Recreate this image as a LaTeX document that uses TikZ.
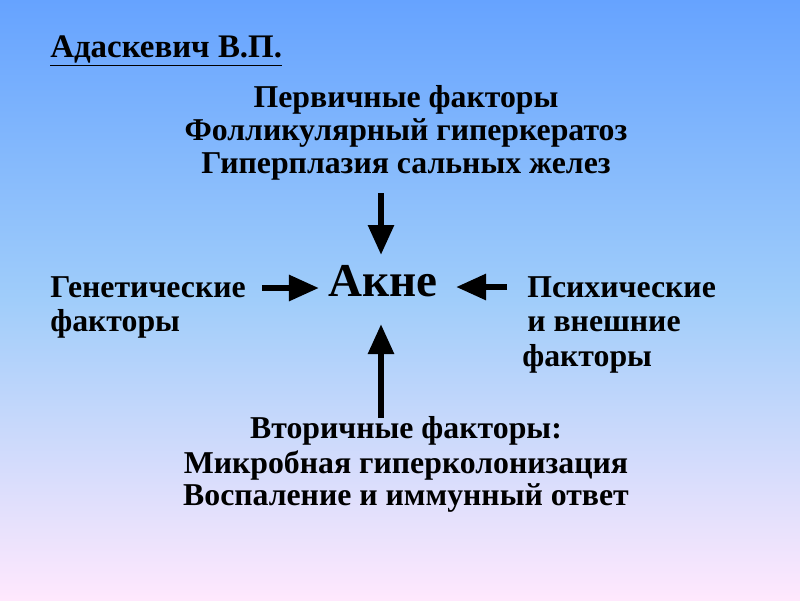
\documentclass[tikz,border=0pt]{standalone}
\usepackage{fontspec}
\setmainfont{Liberation Serif}
\usepackage{xcolor}
\usetikzlibrary{arrows.meta,positioning}
\definecolor{bgtop}{RGB}{102,163,255}
\definecolor{bgmid}{RGB}{160,205,250}
\definecolor{bgbot}{RGB}{255,232,253}

\begin{document}
\begin{tikzpicture}[
  x=0.025cm, y=-0.025cm,
  txt/.style={inner sep=0pt, align=center, font=\fontsize{22.6}{33}\selectfont\bfseries},
  lft/.style={inner sep=0pt, anchor=west, font=\fontsize{22.6}{33}\selectfont\bfseries},
  big/.style={inner sep=0pt, font=\fontsize{33.5}{38}\selectfont\bfseries},
  arr/.style={line width=4.5pt, -{Triangle[length=0.75cm,width=0.62cm]}},
]
  % background
  \shade[top color=bgtop, bottom color=bgbot, middle color=bgmid] (0,0) rectangle (800,600);
  \useasboundingbox (0,0) rectangle (800,600);
  % author
  \node[lft, font=\fontsize{23.4}{33}\selectfont\bfseries] (author) at (50,51) {\underline{Адаскевич В.П.}};
  % primary factors
  \node[txt] (prim1) at (406,100) {Первичные факторы};
  \node[txt] (prim2) at (406,133) {Фолликулярный гиперкератоз};
  \node[txt] (prim3) at (406,166) {Гиперплазия сальных желез};
  % centre
  \node[big] (acne) at (383,281) {Акне};
  % genetic
  \node[lft] (gen1) at (50,287) {Генетические};
  \node[lft] (gen2) at (50,324) {факторы};
  % psychic
  \node[lft] (psy1) at (527,287) {Психические};
  \node[lft] (psy2) at (527,324) {и внешние};
  \node[lft] (psy3) at (522,359) {факторы};
  % secondary factors
  \node[txt] (sec1) at (406,431) {Вторичные факторы:};
  \node[txt] (sec2) at (406,465) {Микробная гиперколонизация};
  \node[txt] (sec3) at (406,498) {Воспаление и иммунный ответ};
  % arrows
  \coordinate (top-s) at (381,193);
  \coordinate (top-e) at (381,255);
  \coordinate (bot-s) at (381,418);
  \coordinate (bot-e) at (381,324);
  \coordinate (lft-s) at (262,288);
  \coordinate (lft-e) at (319,288);
  \coordinate (rgt-s) at (507,287);
  \coordinate (rgt-e) at (456,287);
  \draw[arr] (top-s) -- (top-e);
  \draw[arr] (bot-s) -- (bot-e);
  \draw[arr] (lft-s) -- (lft-e);
  \draw[arr] (rgt-s) -- (rgt-e);
\end{tikzpicture}
\end{document}
